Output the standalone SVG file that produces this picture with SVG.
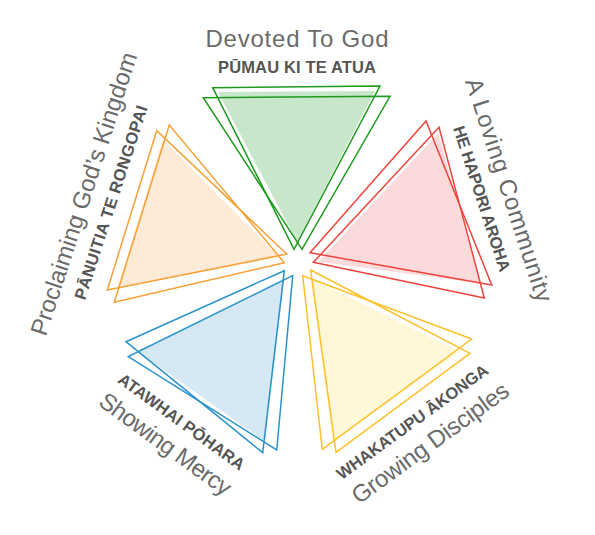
<svg xmlns="http://www.w3.org/2000/svg" width="595" height="535" viewBox="0 0 595 535">
<style>
.big{font-family:"Liberation Sans",Arial,sans-serif;font-size:24px;fill:#6b6b6b;text-anchor:middle}
.small{font-family:"Liberation Sans",Arial,sans-serif;font-size:16.5px;font-weight:bold;fill:#555;text-anchor:middle}
.ol{fill:none;stroke-width:1.5;stroke-linejoin:miter}
.g .ol{stroke:#1f9a1f}.g .fl{fill:#c8e6c9}
.r .ol{stroke:#f0443c}.r .fl{fill:#fbdadb}
.y .ol{stroke:#fdc02a}.y .fl{fill:#fef8d8}
.b .ol{stroke:#2a93cc}.b .fl{fill:#d5e8f4}
.o .ol{stroke:#f7a034}.o .fl{fill:#fdebd7}
</style>
<rect width="595" height="535" fill="#fff"/>
<g id="devoted" class="g">
<polygon class="fl" points="218,92 375,91 297,242"/>
<polygon class="ol" points="212.7,87.7 380,86 294,249.3"/>
<polygon class="ol" points="203.3,97.7 390,96.3 302,249.3"/>
<g transform="translate(297,263)">
<text class="big" x="0" y="-216" textLength="183" lengthAdjust="spacing">Devoted To God</text>
<text class="small" x="0" y="-190" textLength="158" lengthAdjust="spacing">PŪMAU KI TE ATUA</text>
</g>
</g>
<g id="loving" class="r">
<polygon class="fl" points="438.3,133.3 318.3,261.7 480,283.3"/>
<polygon class="ol" points="426,121 310,252.7 491.7,285"/>
<polygon class="ol" points="439,127.3 313.3,262.3 484.3,298"/>
<g transform="translate(297,263) rotate(72)">
<text class="big" x="-4" y="-216" textLength="234" lengthAdjust="spacing">A Loving Community</text>
<text class="small" x="-4" y="-190" textLength="152" lengthAdjust="spacing">HE HAPORI AROHA</text>
</g>
</g>
<g id="growing" class="y">
<polygon class="fl" points="310.7,278.3 460,351.7 332.7,441.7"/>
<polygon class="ol" points="302.7,275.7 471.7,339 322.3,449.3"/>
<polygon class="ol" points="310.7,270 470,353.3 336,452.3"/>
<g transform="translate(297,263) rotate(-36)">
<text class="small" x="0" y="202" textLength="183" lengthAdjust="spacing">WHAKATUPU ĀKONGA</text>
<text class="big" x="2" y="232" textLength="188" lengthAdjust="spacing">Growing Disciples</text>
</g>
</g>
<g id="mercy" class="b">
<polygon class="fl" points="284.3,278.3 136.7,350.7 265,441.7"/>
<polygon class="ol" points="284.3,270.7 126,341.7 262.7,452.7"/>
<polygon class="ol" points="292.7,275.7 128.3,356.7 276.7,450"/>
<g transform="translate(297,263) rotate(36)">
<text class="small" x="0" y="202" textLength="152" lengthAdjust="spacing">ATAWHAI PŌHARA</text>
<text class="big" x="0" y="232" textLength="157" lengthAdjust="spacing">Showing Mercy</text>
</g>
</g>
<g id="proclaiming" class="o">
<polygon class="fl" points="162.7,139.3 117.3,288.3 279.3,257.3"/>
<polygon class="ol" points="156.7,130.7 107.3,290 286.7,254"/>
<polygon class="ol" points="169.3,125 114.3,302.3 284.3,262.7"/>
<g transform="translate(297,263) rotate(-72)">
<text class="big" x="0" y="-216" textLength="296" lengthAdjust="spacing">Proclaiming God’s Kingdom</text>
<text class="small" x="0" y="-190" textLength="203" lengthAdjust="spacing">PĀNUITIA TE RONGOPAI</text>
</g>
</g>
<g id="connectors"/>
</svg>
